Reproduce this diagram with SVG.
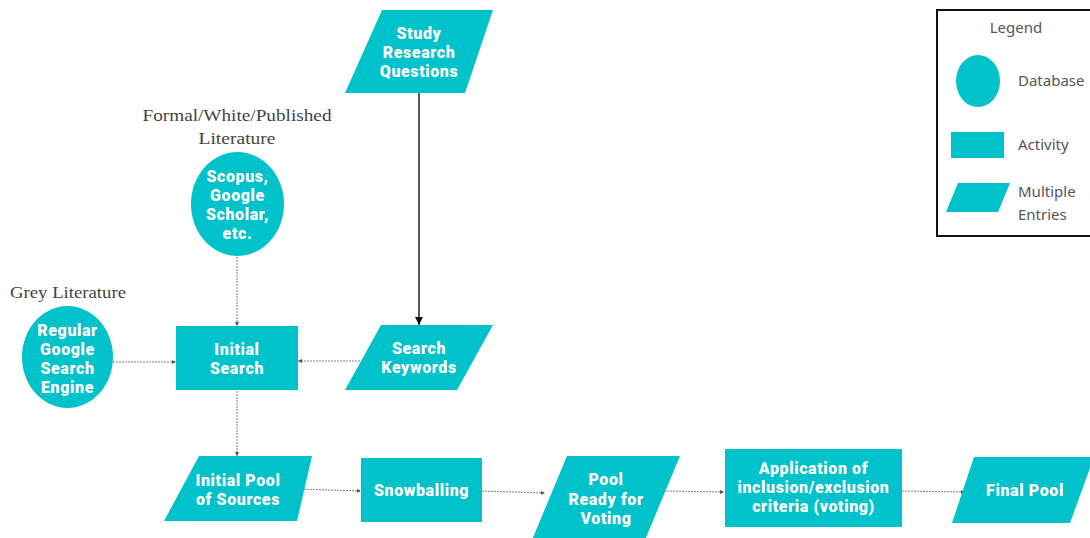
<svg xmlns="http://www.w3.org/2000/svg" width="1090" height="538" viewBox="0 0 1090 538">
  <defs>
    <style>
      .shape { fill: #00C2CA; }
      .lbl { font-family: Roboto, "Liberation Sans", sans-serif; font-weight: 900; font-size: 16px; letter-spacing: 0.6px; fill: #ffffff; text-anchor: middle; }
      .cap { font-family: "Liberation Serif", serif; font-size: 17.5px; fill: #444444; }
      .leg { font-family: "Noto Sans", "Liberation Sans", sans-serif; font-size: 15px; fill: #555555; }
      .link { fill: none; stroke: #707070; stroke-width: 0.9; stroke-dasharray: 2 1; marker-end: url(#tip); }
      .main { fill: none; stroke: #111111; stroke-width: 1.4; marker-end: url(#tipBold); }
    </style>
    <marker id="tip" viewBox="0 0 6 6" refX="6" refY="3" markerWidth="4" markerHeight="4" orient="auto" markerUnits="userSpaceOnUse">
      <path d="M0,0 L6,3 L0,6 Z" fill="#555555"/>
    </marker>
    <marker id="tipBold" viewBox="0 0 8 8" refX="8" refY="4" markerWidth="8" markerHeight="8" orient="auto" markerUnits="userSpaceOnUse">
      <path d="M0,0 L8,4 L0,8 Z" fill="#111111"/>
    </marker>
  </defs>

  <rect width="1090" height="538" fill="#ffffff"/>

  <!-- connectors -->
  <g id="connectors">
    <line class="main" x1="419" y1="93" x2="419" y2="325"/>
    <line class="link" x1="237" y1="257" x2="237" y2="326"/>
    <line class="link" x1="113" y1="362" x2="176" y2="362"/>
    <line class="link" x1="360" y1="361" x2="298" y2="361"/>
    <line class="link" x1="237" y1="391" x2="237" y2="456"/>
    <line class="link" x1="298" y1="489" x2="361" y2="491"/>
    <line class="link" x1="482" y1="491" x2="545" y2="493"/>
    <line class="link" x1="664" y1="491" x2="724" y2="492"/>
    <line class="link" x1="902" y1="491" x2="965" y2="492"/>
  </g>

  <!-- captions -->
  <text class="cap" x="237" y="121" text-anchor="middle" textLength="189" lengthAdjust="spacingAndGlyphs">Formal/White/Published</text>
  <text class="cap" x="237" y="144" text-anchor="middle" textLength="77" lengthAdjust="spacingAndGlyphs">Literature</text>
  <text class="cap" x="10" y="298" textLength="116" lengthAdjust="spacingAndGlyphs">Grey Literature</text>

  <g id="study-questions">
    <polygon class="shape" points="382,10 493,10 465,93 345,93"/>
    <text class="lbl" x="419" y="39">Study</text>
    <text class="lbl" x="419" y="58">Research</text>
    <text class="lbl" x="419" y="77">Questions</text>
  </g>

  <g id="scholarly-db">
    <ellipse class="shape" cx="237.5" cy="204" rx="46.5" ry="52"/>
    <text class="lbl" x="237.5" y="182">Scopus,</text>
    <text class="lbl" x="237.5" y="201">Google</text>
    <text class="lbl" x="237.5" y="220">Scholar,</text>
    <text class="lbl" x="237.5" y="239">etc.</text>
  </g>

  <g id="google-db">
    <ellipse class="shape" cx="67.5" cy="357" rx="45.5" ry="51"/>
    <text class="lbl" x="67.5" y="336">Regular</text>
    <text class="lbl" x="67.5" y="355">Google</text>
    <text class="lbl" x="67.5" y="374">Search</text>
    <text class="lbl" x="67.5" y="393">Engine</text>
  </g>

  <g id="initial-search">
    <rect class="shape" x="176" y="326" width="122" height="64"/>
    <text class="lbl" x="237" y="355">Initial</text>
    <text class="lbl" x="237" y="374">Search</text>
  </g>

  <g id="search-keywords">
    <polygon class="shape" points="381,325 493,325 457,390 345,390"/>
    <text class="lbl" x="419" y="354">Search</text>
    <text class="lbl" x="419" y="373">Keywords</text>
  </g>

  <g id="initial-pool">
    <polygon class="shape" points="199,456 312,456 297,521 164,521"/>
    <text class="lbl" x="238" y="486">Initial Pool</text>
    <text class="lbl" x="238" y="505">of Sources</text>
  </g>

  <g id="snowballing">
    <rect class="shape" x="361" y="458" width="121" height="64"/>
    <text class="lbl" x="421.5" y="496">Snowballing</text>
  </g>

  <g id="pool-ready">
    <polygon class="shape" points="567,456 680,456 645,540 532,540"/>
    <text class="lbl" x="606" y="485">Pool</text>
    <text class="lbl" x="606" y="505">Ready for</text>
    <text class="lbl" x="606" y="524">Voting</text>
  </g>

  <g id="apply-criteria">
    <rect class="shape" x="725" y="449" width="177" height="78"/>
    <text class="lbl" x="813.5" y="474">Application of</text>
    <text class="lbl" x="813.5" y="493">inclusion/exclusion</text>
    <text class="lbl" x="813.5" y="512">criteria (voting)</text>
  </g>

  <g id="final-pool">
    <polygon class="shape" points="974,457 1094,457 1070,523 952,523"/>
    <text class="lbl" x="1025" y="496">Final Pool</text>
  </g>

  <!-- legend -->
  <g id="legend">
    <rect x="937" y="10" width="160" height="226" fill="#ffffff" stroke="#111111" stroke-width="2"/>
    <text class="leg" x="1016" y="33" text-anchor="middle">Legend</text>
    <ellipse class="shape" cx="978" cy="81" rx="22" ry="26"/>
    <text class="leg" x="1018" y="86">Database</text>
    <rect class="shape" x="951" y="132" width="53" height="26"/>
    <text class="leg" x="1018" y="150">Activity</text>
    <polygon class="shape" points="958,183 1010,183 998,212 946,212"/>
    <text class="leg" x="1018" y="197">Multiple</text>
    <text class="leg" x="1018" y="220">Entries</text>
  </g>
</svg>
